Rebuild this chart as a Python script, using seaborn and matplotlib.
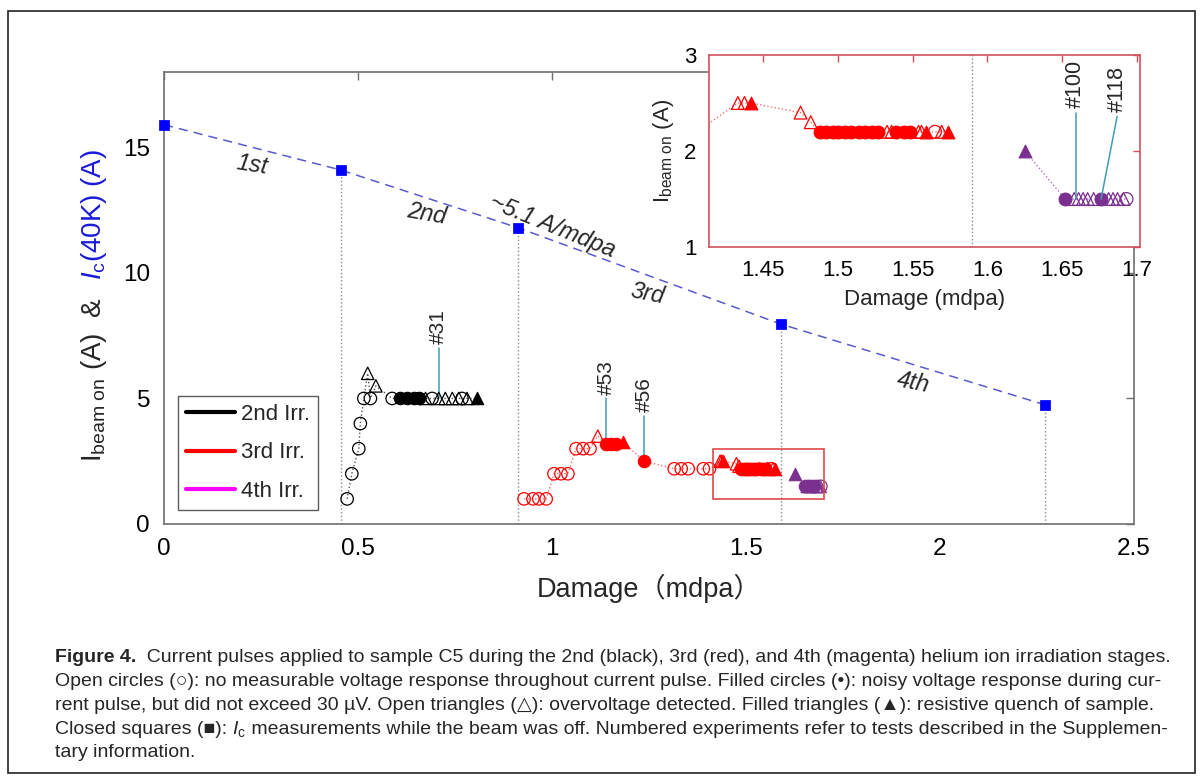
import numpy as np
import pandas as pd
import matplotlib
matplotlib.use("Agg")
import matplotlib.pyplot as plt
from matplotlib import font_manager
from matplotlib.patches import Rectangle
from matplotlib.lines import Line2D
import seaborn as sns

# ---------------------------------------------------------------
# data
# ---------------------------------------------------------------
# Ic(40K) measured with the beam off, between the irradiation stages
ic_damage = [0.0, 0.455, 0.912, 1.590, 2.270]
ic_current = [15.9, 14.1, 11.8, 7.96, 4.75]

# pulse kinds: o = open circle, c = filled circle, t = open triangle, T = filled triangle
irr2_damage = [0.472, 0.484, 0.502, 0.506, 0.515, 0.525, 0.532, 0.546, 0.588,
               0.609, 0.627, 0.644, 0.656, 0.674, 0.691, 0.708, 0.725, 0.743,
               0.760, 0.768, 0.781, 0.807]
irr2_current = [1, 2, 3, 4, 5, 6, 5, 5.5, 5,
                5, 5, 5, 5, 5, 5, 5, 5, 5,
                5, 5, 5, 5]
irr2_kind = ["o", "o", "o", "o", "o", "t", "o", "t", "o",
             "c", "c", "c", "c", "t", "o", "t", "t", "t",
             "t", "o", "t", "T"]

irr3_damage = [0.928, 0.951, 0.966, 0.985, 1.005, 1.023, 1.041, 1.062, 1.080, 1.098,
               1.118, 1.140, 1.152, 1.165, 1.183, 1.238,
               1.315, 1.333, 1.351, 1.390, 1.406,
               1.4333, 1.4377, 1.4418, 1.4752, 1.482,
               1.488, 1.492, 1.497, 1.500, 1.505, 1.509, 1.514, 1.518, 1.523, 1.527,
               1.533, 1.536, 1.539, 1.544, 1.548, 1.554, 1.556, 1.559, 1.565, 1.5695, 1.574]
irr3_current = [1, 1, 1, 1, 2, 2, 2, 3, 3, 3,
                3.5, 3.2, 3.2, 3.2, 3.25, 2.5,
                2.2, 2.2, 2.2, 2.2, 2.2,
                2.5, 2.5, 2.5, 2.4, 2.3,
                2.2, 2.2, 2.2, 2.2, 2.2, 2.2, 2.2, 2.2, 2.2, 2.2,
                2.2, 2.2, 2.2, 2.2, 2.2, 2.2, 2.2, 2.2, 2.2, 2.2, 2.2]
irr3_kind = ["o", "o", "o", "o", "o", "o", "o", "o", "o", "o",
             "t", "c", "c", "c", "T", "c",
             "o", "o", "o", "o", "o",
             "t", "t", "T", "t", "t",
             "c", "c", "c", "c", "c", "c", "c", "c", "c", "c",
             "t", "t", "c", "c", "c", "t", "t", "T", "o", "t", "T"]

irr4_damage = [1.625, 1.652, 1.658, 1.661, 1.664, 1.667, 1.671, 1.676,
               1.681, 1.684, 1.687, 1.691, 1.693]
irr4_current = [2.0, 1.5, 1.5, 1.5, 1.5, 1.5, 1.5, 1.5,
                1.5, 1.5, 1.5, 1.5, 1.5]
irr4_kind = ["T", "c", "t", "t", "t", "t", "t", "c",
             "t", "t", "t", "t", "o"]

# numbered experiments
tag_labels = ["#31", "#53", "#56"]
tag_damage = [0.708, 1.140, 1.238]
tag_current = [5.0, 3.2, 2.5]
tag_top = [7.0, 5.0, 4.3]

inset_tag_labels = ["#100", "#118"]
inset_tag_damage = [1.659, 1.676]
inset_tag_current = [1.5, 1.5]
inset_tag_top_damage = [1.659, 1.6867]
inset_tag_top = [2.40, 2.36]

inset_xlim = [1.414, 1.702]
inset_ylim = [1.0, 3.0]

legend_labels = ["2nd Irr.", "3rd Irr.", "4th Irr."]
legend_colors = ["black", "#ff0000", "#ff00ff"]

# ---------------------------------------------------------------
# style
# ---------------------------------------------------------------
sns.set_theme(style="white")
plt.rcParams["font.family"] = ["Liberation Sans", "DejaVu Sans", "Noto Sans CJK SC"]
plt.rcParams["mathtext.fontset"] = "custom"
plt.rcParams["mathtext.rm"] = "Liberation Sans"
plt.rcParams["mathtext.it"] = "Liberation Sans:italic"

SPINE = "#707070"
RED = "#ff0000"
PURPLE = "#7b2f8f"
TAG = "#3f9fb4"
BOXRED = "#d2505a"

MARKERS = {"o": ("o", False), "c": ("o", True), "t": ("^", False), "T": ("^", True)}


def draw_stage(ax, dmg, cur, kind, color, line_color, size):
    df = pd.DataFrame({"damage": dmg, "current": cur, "kind": kind})
    sns.lineplot(data=df, x="damage", y="current", sort=False, estimator=None,
                 color=line_color, lw=1.0, ls=":", ax=ax, zorder=2)
    for k, (marker, filled) in MARKERS.items():
        sub = df[df["kind"] == k]
        if sub.empty:
            continue
        if filled:
            sns.scatterplot(data=sub, x="damage", y="current", marker=marker, s=size,
                            color=color, edgecolor=color, linewidth=0.8, ax=ax, zorder=3)
        else:
            sns.scatterplot(data=sub, x="damage", y="current", marker=marker, s=size,
                            facecolor="none", edgecolor=color, linewidth=0.9, ax=ax, zorder=3)


W, H = 1202, 782
fig = plt.figure(figsize=(W / 100, H / 100), dpi=100)
ax = fig.add_axes([164 / W, 1 - 524 / H, (1134 - 164) / W, (524 - 72) / H])

# beam-off Ic line with dotted drop lines
for xd, yd in zip(ic_damage[1:], ic_current[1:]):
    ax.plot([xd, xd], [0, yd], ls=":", color="#8a8a8a", lw=1.0, zorder=1)
ic_df = pd.DataFrame({"damage": ic_damage, "current": ic_current})
sns.lineplot(data=ic_df, x="damage", y="current", color="#5a5ad0", lw=1.1, ax=ax, zorder=2)
ax.lines[-1].set_dashes((6, 4))
sns.scatterplot(data=ic_df, x="damage", y="current", marker="s", s=45,
                color="#0000ff", edgecolor="#0000ff", ax=ax, zorder=4, clip_on=False)

draw_stage(ax, irr2_damage, irr2_current, irr2_kind, "black", "#555555", 80)
draw_stage(ax, irr3_damage, irr3_current, irr3_kind, RED, "#f07070", 80)
draw_stage(ax, irr4_damage, irr4_current, irr4_kind, PURPLE, "#b070c0", 80)

for lab, xd, yd, top in zip(tag_labels, tag_damage, tag_current, tag_top):
    ax.plot([xd, xd], [yd, top], color=TAG, lw=1.1, zorder=2)
    ax.text(xd, top + 0.15, lab, rotation=90, ha="center", va="bottom", fontsize=15)

# zoom box
ax.add_patch(Rectangle((inset_xlim[0], inset_ylim[0]), inset_xlim[1] - inset_xlim[0],
                       inset_ylim[1] - inset_ylim[0], fill=False, ec="#e04848", lw=1.2, zorder=5))

# stage labels along the Ic line
ax.text(0.226, 14.3, "1st", rotation=-9, style="italic", fontsize=17, ha="center", va="center")
ax.text(0.678, 12.36, "2nd", rotation=-10, style="italic", fontsize=17, ha="center", va="center")
ax.text(1.0, 11.85, "~5.1 A/mdpa", rotation=-22, style="italic", fontsize=17,
        ha="center", va="center", rotation_mode="anchor")
ax.text(1.246, 9.16, "3rd", rotation=-11, style="italic", fontsize=17, ha="center", va="center")
ax.text(1.93, 5.63, "4th", rotation=-11, style="italic", fontsize=17, ha="center", va="center")

ax.set_xlim(0, 2.5)
ax.set_ylim(0, 18)
ax.set_xticks([0, 0.5, 1, 1.5, 2, 2.5])
ax.set_xticklabels(["0", "0.5", "1", "1.5", "2", "2.5"])
ax.set_yticks([0, 5, 10, 15])
ax.tick_params(direction="in", length=6, width=1, colors=SPINE, labelcolor="black",
               labelsize=17.5, top=True, right=True, pad=10)
for s in ax.spines.values():
    s.set_color(SPINE)
    s.set_linewidth(1.2)
ax.set_xlabel("Damage（mdpa）", fontsize=19.5, labelpad=10)
ax.set_ylabel("")

# two-coloured y label
fig.text(94 / W, 1 - 462 / H, r"$\mathregular{I_{beam\ on}}$ (A)  &", rotation=90,
         ha="center", va="bottom", fontsize=20)
fig.text(94 / W, 1 - 280 / H, r"$I_\mathregular{c}$(40K) (A)", rotation=90,
         ha="center", va="bottom", fontsize=20, color="#1a1ad8")

handles = [Line2D([0], [0], color=c, lw=3) for c in legend_colors]
leg = ax.legend(handles, legend_labels, loc="lower left", bbox_to_anchor=(0.0144, 0.031),
                fontsize=16, frameon=True, fancybox=False, edgecolor="#333333",
                handlelength=2.2, handletextpad=0.3, labelspacing=0.8, borderpad=0.35,
                borderaxespad=0)
leg.get_frame().set_linewidth(1.0)

# ---------------------------------------------------------------
# inset
# ---------------------------------------------------------------
ins = fig.add_axes([709 / W, 1 - 247 / H, (1140 - 709) / W, (247 - 55) / H])
ins.set_facecolor("white")
ins.plot([ic_damage[3], ic_damage[3]], [0, ic_current[3]], ls=":", color="#8a8a8a", lw=1.0)
draw_stage(ins, irr3_damage, irr3_current, irr3_kind, RED, "#f07070", 85)
draw_stage(ins, irr4_damage, irr4_current, irr4_kind, PURPLE, "#b070c0", 85)
for lab, xd, yd, xt, yt in zip(inset_tag_labels, inset_tag_damage, inset_tag_current,
                               inset_tag_top_damage, inset_tag_top):
    ins.plot([xd, xt], [yd, yt], color=TAG, lw=1.1, zorder=4)
    ins.text(xt, yt + 0.05, lab, rotation=90, ha="center", va="bottom", fontsize=15.5)
ins.set_xlim(inset_xlim)
ins.set_ylim(inset_ylim)
ins.set_xticks([1.45, 1.5, 1.55, 1.6, 1.65, 1.7])
ins.set_xticklabels(["1.45", "1.5", "1.55", "1.6", "1.65", "1.7"])
ins.set_yticks([1, 2, 3])
ins.tick_params(direction="in", length=5, width=1, colors=BOXRED, labelcolor="black",
                labelsize=16, top=True, right=True, pad=9)
for s in ins.spines.values():
    s.set_color(BOXRED)
    s.set_linewidth(1.2)
ins.set_xlabel("Damage (mdpa)", fontsize=16, labelpad=6)
ins.set_ylabel(r"$\mathregular{I_{beam\ on}}$ (A)", fontsize=16, labelpad=6)

# ---------------------------------------------------------------
# caption and frame
# ---------------------------------------------------------------
try:
    font_manager.findfont(font_manager.FontProperties(family="Liberation Sans Narrow"),
                          fallback_to_default=False)
    cap_family = ["Liberation Sans Narrow", "DejaVu Sans"]
except ValueError:
    cap_family = ["Liberation Sans", "DejaVu Sans"]

caption_lines = [
    [("Figure 4.", "bold"), ("  Current pulses applied to sample C5 during the 2nd (black), 3rd (red), "
                             "and 4th (magenta) helium ion irradiation stages.", "normal")],
    [("Open circles (○): no measurable voltage response throughout current pulse. "
      "Filled circles (•): noisy voltage response during cur-", "normal")],
    [("rent pulse, but did not exceed 30 µV. Open triangles (△): overvoltage detected. "
      "Filled triangles (▲): resistive quench of sample.", "normal")],
    [("Closed squares (■): ", "normal"), (r"$I_\mathregular{c}$", "math"),
     (" measurements while the beam was off. Numbered experiments refer to tests "
      "described in the Supplemen-", "normal")],
    [("tary information.", "normal")],
]
cap_y = [657, 681, 705, 729, 752]
cap_left, cap_right = 55, 1170
renderer = fig.canvas.get_renderer()


def put_line(segments, yy, size):
    x = cap_left
    arts = []
    for txt, kind in segments:
        kw = dict(fontsize=size, va="baseline", ha="left")
        if kind == "bold":
            kw["fontweight"] = "bold"
        if kind != "math":
            kw["family"] = cap_family
        t = fig.text(x / W, 1 - yy / H, txt, **kw)
        x = t.get_window_extent(renderer).x1
        arts.append(t)
    return arts, x


# fit the widest caption line to the caption width
widest = 0
for segs in caption_lines:
    probe, x_end = put_line(segs, cap_y[0], 10)
    widest = max(widest, x_end - cap_left)
    for a in probe:
        a.remove()
cap_size = 10 * (cap_right - cap_left) / widest
for segs, yy in zip(caption_lines, cap_y):
    put_line(segs, yy + 5, cap_size)

fig.add_artist(Rectangle((8 / W, 1 - 773 / H), (1195 - 8) / W, (773 - 11) / H,
                         transform=fig.transFigure, fill=False, ec="#222222", lw=1.2))

fig.savefig("out.png", dpi=100)
